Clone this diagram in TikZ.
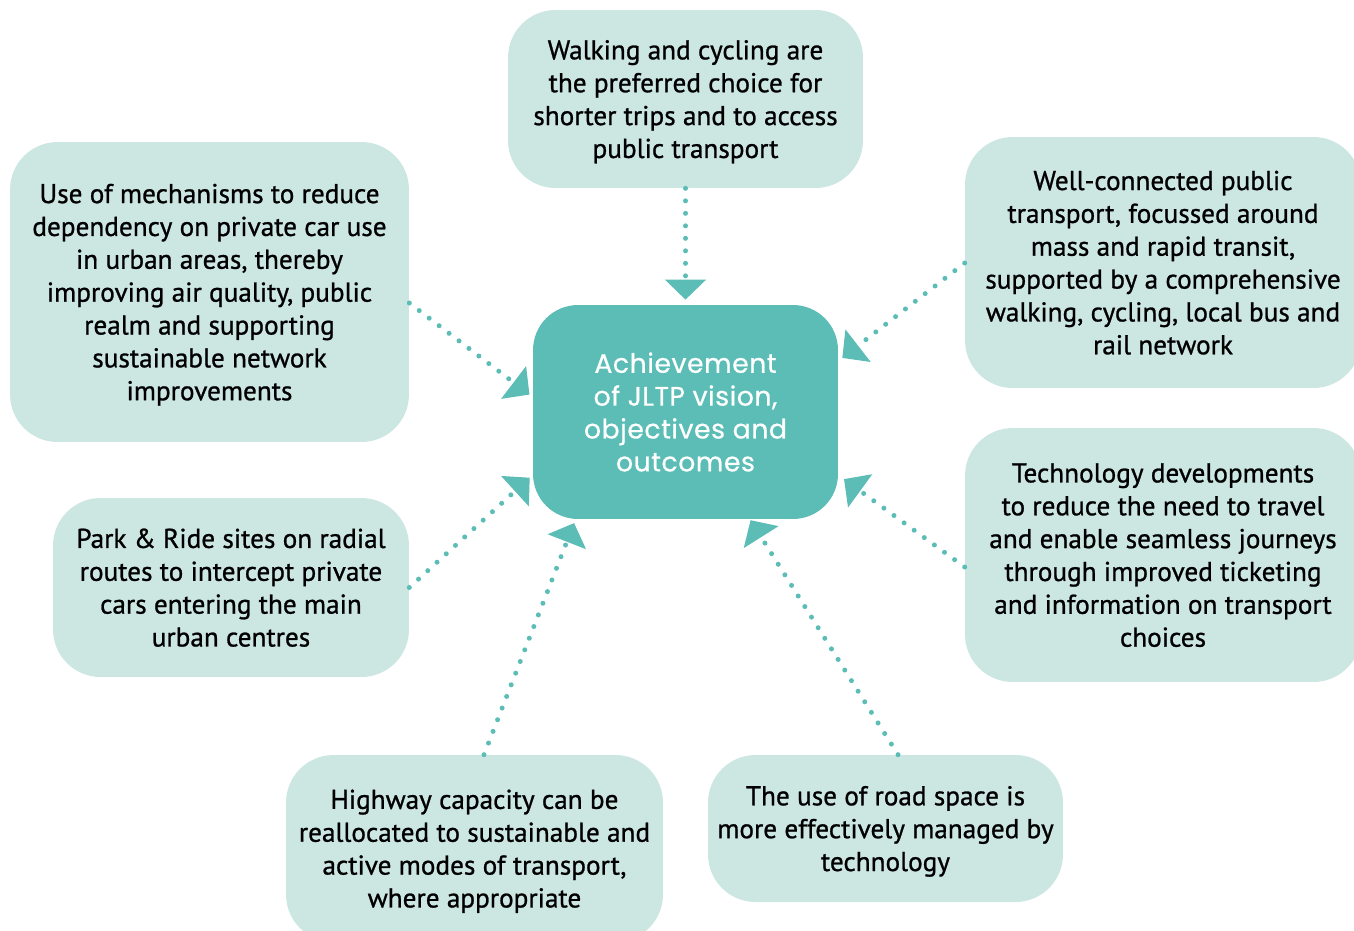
\documentclass[tikz,border=0pt]{standalone}
\usepackage{fontspec}
\setmainfont{PT Sans}[FakeBold=0.9]
\newfontfamily\hubfont{Poppins}[FakeBold=0.6,LetterSpace=2]
\usetikzlibrary{arrows.meta}
\definecolor{hubteal}{RGB}{91,189,181}
\definecolor{palemint}{RGB}{204,230,226}
\begin{document}
\begin{tikzpicture}[x=0.02cm,y=-0.02cm,
    outcome/.style={rectangle,rounded corners=0.95cm,fill=palemint,align=center,inner sep=0pt,
      text depth=0pt,font=\fontsize{15.5}{18.7}\selectfont},
    hub/.style={rectangle,rounded corners=0.9cm,fill=hubteal,text=white,align=center,inner sep=0pt,
      font=\hubfont\fontsize{15.2}{18.7}\selectfont},
    link/.style={hubteal,line width=0.1cm,line cap=round,dash pattern=on 0pt off 0.25cm,
      -{Triangle[length=0.4cm,width=0.8cm]}}]
  \clip(0,0)rectangle(1354,930);
  % centre
  \node[hub,minimum width=6.1cm,minimum height=4.28cm](centre)at(685.5,412)
    {Achievement\\of JLTP vision,\\objectives and\\outcomes};
  % outcomes round it
  \node[outcome,minimum width=7.1cm,minimum height=3.56cm](walk)at(685.5,99)
    {Walking and cycling are\\the preferred choice for\\shorter trips and to access\\public transport};
  \node[outcome,minimum width=7.98cm,minimum height=6cm](demand)at(209.5,292)
    {Use of mechanisms to reduce\\dependency on private car use\\in urban areas, thereby\\improving air quality, public\\realm and supporting\\sustainable network\\improvements};
  \node[outcome,minimum width=7.92cm,minimum height=5.02cm](transit)at(1163,262.5)
    {Well-connected public\\transport, focussed around\\mass and rapid transit,\\supported by a comprehensive\\walking, cycling, local bus and\\rail network};
  \node[outcome,minimum width=7.12cm,minimum height=3.58cm](ride)at(231,587.5)
    {Park \& Ride sites on radial\\routes to intercept private\\cars entering the main\\urban centres};
  \node[outcome,minimum width=7.92cm,minimum height=5.08cm](tech)at(1163,555)
    {Technology developments\\to reduce the need to travel\\and enable seamless journeys\\through improved ticketing\\and information on transport\\choices};
  \node[outcome,minimum width=7.54cm,minimum height=3.74cm](highway)at(474.5,848.5)
    {Highway capacity can be\\reallocated to sustainable and\\active modes of transport,\\where appropriate};
  \node[outcome,minimum width=7.1cm,minimum height=2.94cm](road)at(885.5,828.5)
    {The use of road space is\\more effectively managed by\\technology};
  % dotted arrows into the centre
  \draw[link,shorten >=0.1cm](walk.south)--(centre.north);
  \draw[link,shorten >=0.08cm]([yshift=-0.22cm]demand.east)--([yshift=0.3cm]centre.west);
  \draw[link,shorten >=0.08cm](ride.east)--([yshift=-1.26cm]centre.west);
  \draw[link,shorten >=0.1cm]([yshift=-0.01cm]transit.west)--([yshift=1.02cm]centre.east);
  \draw[link,shorten >=0.14cm]([yshift=-0.24cm]tech.west)--([yshift=-1.26cm]centre.east);
  \draw[link,shorten >=0.08cm]([xshift=0.19cm]highway.north)--([xshift=-2.2cm]centre.south);
  \draw[link,shorten >=0.02cm]([xshift=0.25cm]road.north)--([xshift=1.29cm]centre.south);
\end{tikzpicture}
\end{document}
